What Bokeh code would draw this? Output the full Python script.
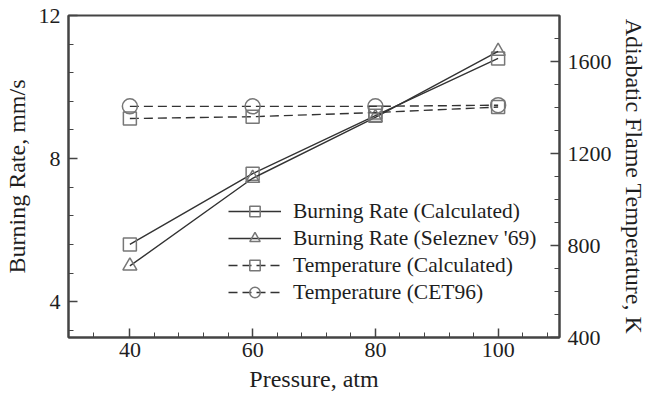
from bokeh.plotting import figure
from bokeh.models import Range1d, LinearAxis, FixedTicker, Legend, LegendItem
from bokeh.embed import file_html
from bokeh.resources import INLINE

pressure = [40, 60, 80, 100]
rate_calc = [5.6, 7.58, 9.2, 10.8]
rate_selez = [5.0, 7.45, 9.15, 11.0]
temp_calc = [1352, 1360, 1378, 1402]
temp_cet96 = [1405, 1405, 1405, 1410]

x_ticks = [40, 60, 80, 100]
x_minor = [34, 44, 48, 52, 56, 64, 68, 72, 76, 84, 88, 92, 96, 104, 108]
y_ticks = [4, 8, 12]
y_minor = [3.2, 4.8, 5.6, 6.4, 7.2, 8.8, 9.6, 10.4, 11.2]
t_ticks = [400, 800, 1200, 1600]
t_minor = [500, 600, 700, 900, 1000, 1100, 1300, 1400, 1500, 1700]

FONT = "Liberation Serif"
LINE = "#333333"
MARK = "#777777"
FRAME = "#444444"
TICK = "#444444"
TEXT = "#1e1e1e"

p = figure(width=649, height=401, output_backend="svg", toolbar_location=None,
           x_range=Range1d(30, 110), y_range=Range1d(3, 12),
           min_border_left=66, min_border_right=89, min_border_top=15, min_border_bottom=64)
p.extra_y_ranges = {"T": Range1d(400, 1800)}
p.grid.visible = False
p.outline_line_color = FRAME
p.outline_line_width = 2

raxis = LinearAxis(y_range_name="T")
p.add_layout(raxis, "right")

p.xaxis.ticker = FixedTicker(ticks=x_ticks, minor_ticks=x_minor)
p.yaxis[0].ticker = FixedTicker(ticks=y_ticks, minor_ticks=y_minor)
raxis.ticker = FixedTicker(ticks=t_ticks, minor_ticks=t_minor)

p.xaxis.axis_label = "Pressure, atm"
p.yaxis[0].axis_label = "Burning Rate, mm/s"
raxis.axis_label = "Adiabatic Flame Temperature, K"

for ax in [p.xaxis[0], p.yaxis[0], raxis]:
    ax.axis_line_color = FRAME
    ax.axis_line_width = 2
    ax.major_tick_line_color = TICK
    ax.minor_tick_line_color = TICK
    ax.major_tick_line_width = 1.5
    ax.minor_tick_line_width = 1
    ax.major_tick_in = 9
    ax.major_tick_out = 0
    ax.minor_tick_in = 5
    ax.minor_tick_out = 0
    ax.major_label_text_font = FONT
    ax.major_label_text_font_size = "22px"
    ax.major_label_text_color = TEXT
    ax.axis_label_text_font = FONT
    ax.axis_label_text_font_size = "24px"
    ax.axis_label_text_font_style = "normal"
    ax.axis_label_text_color = TEXT
    ax.axis_label_standoff = 6
p.xaxis.major_label_standoff = 5
p.yaxis[0].major_label_standoff = 8
raxis.major_label_standoff = 8

l1 = p.line(pressure, rate_calc, line_color=LINE, line_width=1.4)
m1 = p.scatter(pressure, rate_calc, marker="square", size=13, fill_color=None,
               line_color=MARK, line_width=1.5)
l2 = p.line(pressure, rate_selez, line_color=LINE, line_width=1.4)
m2 = p.scatter(pressure, rate_selez, marker="triangle", size=14, fill_color=None,
               line_color=MARK, line_width=1.5)
l3 = p.line(pressure, temp_calc, y_range_name="T", line_color=LINE, line_width=1.4,
            line_dash="9 5")
m3 = p.scatter(pressure, temp_calc, y_range_name="T", marker="square", size=13,
               fill_color=None, line_color=MARK, line_width=1.5)
l4 = p.line(pressure, temp_cet96, y_range_name="T", line_color=LINE, line_width=1.4,
            line_dash="9 5")
m4 = p.scatter(pressure, temp_cet96, y_range_name="T", marker="circle", size=15,
               fill_color=None, line_color=MARK, line_width=1.5)

legend = Legend(items=[
    LegendItem(label="Burning Rate (Calculated)", renderers=[l1, m1]),
    LegendItem(label="Burning Rate (Seleznev '69)", renderers=[l2, m2]),
    LegendItem(label="Temperature (Calculated)", renderers=[l3, m3]),
    LegendItem(label="Temperature (CET96)", renderers=[l4, m4]),
], location=(160, 32))
legend.background_fill_alpha = 0
legend.border_line_alpha = 0
legend.label_text_font = FONT
legend.label_text_font_size = "21.5px"
legend.label_text_color = TEXT
legend.glyph_width = 53
legend.glyph_height = 26
legend.label_height = 26
legend.spacing = 1
legend.padding = 0
legend.margin = 0
legend.label_standoff = 12
p.add_layout(legend)

open("out.html", "w").write(file_html(p, INLINE))
